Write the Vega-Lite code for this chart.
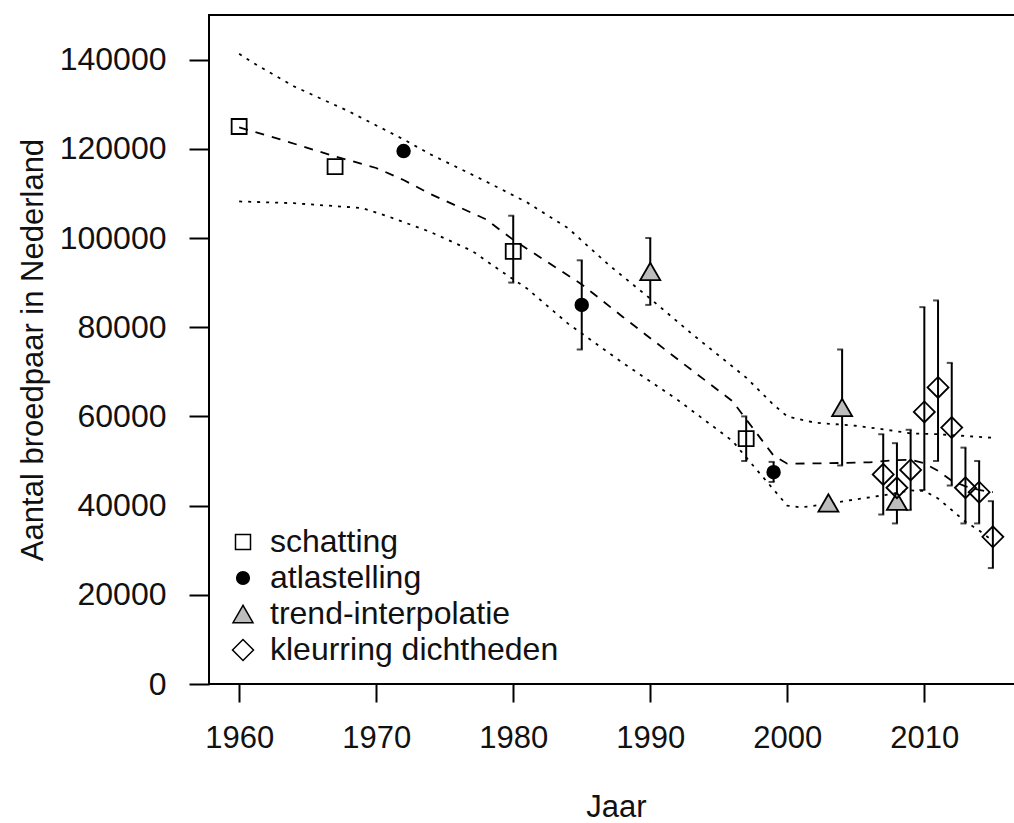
{
  "$schema": "https://vega.github.io/schema/vega-lite/v6.json",
  "width": 814,
  "height": 669,
  "autosize": "none",
  "padding": {"left": 209, "top": 15, "right": 0, "bottom": 139},
  "background": "white",
  "config": {
    "font": "Liberation Sans",
    "view": {"stroke": "black", "strokeWidth": 2},
    "axis": {"grid": false, "domain": false, "tickColor": "black", "tickWidth": 2, "labelColor": "#111", "titleColor": "#111", "titleFontWeight": "normal", "labelFont": "Liberation Sans", "titleFont": "Liberation Sans"},
    "legend": {"title": null, "orient": "bottom-left", "offset": 18, "padding": 0, "labelFontSize": 32, "labelColor": "#111", "labelFont": "Liberation Sans", "labelLimit": 500, "rowPadding": 4, "labelOffset": 11}
  },
  "datasets": {
    "lines": [
      {"year": 1960, "value": 124800, "band": "trend"},
      {"year": 1963, "value": 122100, "band": "trend"},
      {"year": 1967, "value": 118300, "band": "trend"},
      {"year": 1970, "value": 115700, "band": "trend"},
      {"year": 1972, "value": 113000, "band": "trend"},
      {"year": 1974, "value": 109800, "band": "trend"},
      {"year": 1978, "value": 104200, "band": "trend"},
      {"year": 1980, "value": 99600, "band": "trend"},
      {"year": 1985, "value": 89600, "band": "trend"},
      {"year": 1988, "value": 82300, "band": "trend"},
      {"year": 1992, "value": 72800, "band": "trend"},
      {"year": 1996, "value": 63400, "band": "trend"},
      {"year": 1999, "value": 51200, "band": "trend"},
      {"year": 2000, "value": 49400, "band": "trend"},
      {"year": 2003, "value": 49500, "band": "trend"},
      {"year": 2006, "value": 49700, "band": "trend"},
      {"year": 2008, "value": 50200, "band": "trend"},
      {"year": 2009, "value": 50300, "band": "trend"},
      {"year": 2010, "value": 49500, "band": "trend"},
      {"year": 2011, "value": 47800, "band": "trend"},
      {"year": 2012, "value": 45600, "band": "trend"},
      {"year": 2013, "value": 44300, "band": "trend"},
      {"year": 2014, "value": 43500, "band": "trend"},
      {"year": 2015, "value": 43000, "band": "trend"},
      {"year": 1960, "value": 141300, "band": "upper"},
      {"year": 1961, "value": 139300, "band": "upper"},
      {"year": 1964, "value": 134000, "band": "upper"},
      {"year": 1968, "value": 128400, "band": "upper"},
      {"year": 1972, "value": 122100, "band": "upper"},
      {"year": 1974, "value": 118700, "band": "upper"},
      {"year": 1978, "value": 112700, "band": "upper"},
      {"year": 1981, "value": 108000, "band": "upper"},
      {"year": 1984, "value": 102200, "band": "upper"},
      {"year": 1987, "value": 93900, "band": "upper"},
      {"year": 1990, "value": 86400, "band": "upper"},
      {"year": 1993, "value": 78600, "band": "upper"},
      {"year": 1997, "value": 68700, "band": "upper"},
      {"year": 1999, "value": 62600, "band": "upper"},
      {"year": 2000, "value": 60000, "band": "upper"},
      {"year": 2002, "value": 58600, "band": "upper"},
      {"year": 2005, "value": 57900, "band": "upper"},
      {"year": 2007, "value": 57100, "band": "upper"},
      {"year": 2009, "value": 56200, "band": "upper"},
      {"year": 2011, "value": 56000, "band": "upper"},
      {"year": 2015, "value": 55200, "band": "upper"},
      {"year": 1960, "value": 108200, "band": "lower"},
      {"year": 1964, "value": 107800, "band": "lower"},
      {"year": 1969, "value": 106700, "band": "lower"},
      {"year": 1971, "value": 104700, "band": "lower"},
      {"year": 1974, "value": 101300, "band": "lower"},
      {"year": 1977, "value": 97100, "band": "lower"},
      {"year": 1979, "value": 92800, "band": "lower"},
      {"year": 1981, "value": 88700, "band": "lower"},
      {"year": 1984, "value": 80800, "band": "lower"},
      {"year": 1988, "value": 72000, "band": "lower"},
      {"year": 1992, "value": 63700, "band": "lower"},
      {"year": 1996, "value": 54500, "band": "lower"},
      {"year": 1997, "value": 50800, "band": "lower"},
      {"year": 2000, "value": 40000, "band": "lower"},
      {"year": 2001, "value": 39600, "band": "lower"},
      {"year": 2003, "value": 40400, "band": "lower"},
      {"year": 2005, "value": 41400, "band": "lower"},
      {"year": 2007, "value": 42300, "band": "lower"},
      {"year": 2009, "value": 43400, "band": "lower"},
      {"year": 2010, "value": 43300, "band": "lower"},
      {"year": 2011, "value": 41600, "band": "lower"},
      {"year": 2012, "value": 39000, "band": "lower"},
      {"year": 2013, "value": 36400, "band": "lower"},
      {"year": 2014, "value": 34400, "band": "lower"},
      {"year": 2015, "value": 32100, "band": "lower"}
    ],
    "points": [
      {"year": 1960, "value": 125000, "lo": null, "hi": null, "type": "schatting"},
      {"year": 1967, "value": 116000, "lo": null, "hi": null, "type": "schatting"},
      {"year": 1980, "value": 97000, "lo": 90000, "hi": 105000, "type": "schatting"},
      {"year": 1997, "value": 55000, "lo": 50000, "hi": 60000, "type": "schatting"},
      {"year": 1972, "value": 119500, "lo": null, "hi": null, "type": "atlastelling"},
      {"year": 1985, "value": 85000, "lo": 75000, "hi": 95000, "type": "atlastelling"},
      {"year": 1999, "value": 47500, "lo": 45300, "hi": 49800, "type": "atlastelling"},
      {"year": 1990, "value": 92500, "lo": 85000, "hi": 100000, "type": "trend-interpolatie"},
      {"year": 2003, "value": 40600, "lo": null, "hi": null, "type": "trend-interpolatie"},
      {"year": 2004, "value": 62000, "lo": 49000, "hi": 75000, "type": "trend-interpolatie"},
      {"year": 2008, "value": 41000, "lo": null, "hi": null, "type": "trend-interpolatie"},
      {"year": 2007, "value": 47000, "lo": 38000, "hi": 56000, "type": "kleurring dichtheden"},
      {"year": 2008, "value": 44000, "lo": 36000, "hi": 54000, "type": "kleurring dichtheden"},
      {"year": 2009, "value": 48000, "lo": 39000, "hi": 57000, "type": "kleurring dichtheden"},
      {"year": 2010, "value": 61000, "lo": 43500, "hi": 84500, "type": "kleurring dichtheden"},
      {"year": 2011, "value": 66500, "lo": 50000, "hi": 86000, "type": "kleurring dichtheden"},
      {"year": 2012, "value": 57500, "lo": 44500, "hi": 72000, "type": "kleurring dichtheden"},
      {"year": 2013, "value": 44000, "lo": 36000, "hi": 53000, "type": "kleurring dichtheden"},
      {"year": 2014, "value": 43000, "lo": 36000, "hi": 50000, "type": "kleurring dichtheden"},
      {"year": 2015, "value": 33000, "lo": 26000, "hi": 41000, "type": "kleurring dichtheden"}
    ]
  },
  "encoding": {
    "x": {"field": "year", "type": "quantitative", "scale": {"domain": [1957.8, 2017.2], "nice": false, "zero": false},
      "axis": {"values": [1960, 1970, 1980, 1990, 2000, 2010], "format": "d", "tickSize": 18, "labelFontSize": 31, "labelPadding": 21, "title": "Jaar", "titleFontSize": 31, "titlePadding": 39}},
    "y": {"field": "value", "type": "quantitative", "scale": {"domain": [0, 150000], "nice": false},
      "axis": {"values": [0, 20000, 40000, 60000, 80000, 100000, 120000, 140000], "format": "d", "tickSize": 20, "labelFontSize": 32, "labelPadding": 23, "title": "Aantal broedpaar in Nederland", "titleFontSize": 31, "titlePadding": 10}}
  },
  "layer": [
    {"data": {"name": "lines"}, "transform": [{"filter": "datum.band === 'trend'"}],
     "mark": {"type": "line", "color": "black", "strokeWidth": 1.8, "strokeDash": [9, 8]}},
    {"data": {"name": "lines"}, "transform": [{"filter": "datum.band === 'upper'"}],
     "mark": {"type": "line", "color": "black", "strokeWidth": 1.8, "strokeDash": [3, 6]}},
    {"data": {"name": "lines"}, "transform": [{"filter": "datum.band === 'lower'"}],
     "mark": {"type": "line", "color": "black", "strokeWidth": 1.8, "strokeDash": [3, 6]}},
    {"data": {"name": "points"}, "transform": [{"filter": "datum.lo != null"}],
     "mark": {"type": "rule", "color": "black", "strokeWidth": 2},
     "encoding": {"y": {"field": "lo", "type": "quantitative"}, "y2": {"field": "hi"}}},
    {"data": {"name": "points"}, "transform": [{"filter": "datum.lo != null"}],
     "mark": {"type": "point", "shape": "stroke", "size": 36, "stroke": "black", "strokeWidth": 2, "xOffset": -2},
     "encoding": {"y": {"field": "lo", "type": "quantitative"}}},
    {"data": {"name": "points"}, "transform": [{"filter": "datum.lo != null"}],
     "mark": {"type": "point", "shape": "stroke", "size": 36, "stroke": "black", "strokeWidth": 2, "xOffset": -2},
     "encoding": {"y": {"field": "hi", "type": "quantitative"}}},
    {"data": {"name": "points"},
     "mark": {"type": "point", "filled": true, "stroke": "black", "strokeWidth": 1.8, "opacity": 1},
     "encoding": {
       "shape": {"field": "type", "type": "nominal",
         "scale": {"domain": ["schatting", "atlastelling", "trend-interpolatie", "kleurring dichtheden"], "range": ["square", "circle", "triangle-up", "diamond"]},
         "legend": {"encode": {"symbols": {"update": {"stroke": {"value": "black"}, "strokeWidth": {"value": 1.5}}}}}},
       "fill": {"field": "type", "type": "nominal",
         "scale": {"domain": ["schatting", "atlastelling", "trend-interpolatie", "kleurring dichtheden"], "range": ["transparent", "black", "#bdbdbd", "transparent"]},
         "legend": {"encode": {"symbols": {"update": {"stroke": {"value": "black"}, "strokeWidth": {"value": 1.5}}}}}},
       "size": {"field": "type", "type": "nominal",
         "scale": {"type": "ordinal", "domain": ["schatting", "atlastelling", "trend-interpolatie", "kleurring dichtheden"], "range": [225, 160, 400, 440]},
         "legend": {"encode": {"symbols": {"update": {"stroke": {"value": "black"}, "strokeWidth": {"value": 1.5}}}}}}
     }}
  ]
}
